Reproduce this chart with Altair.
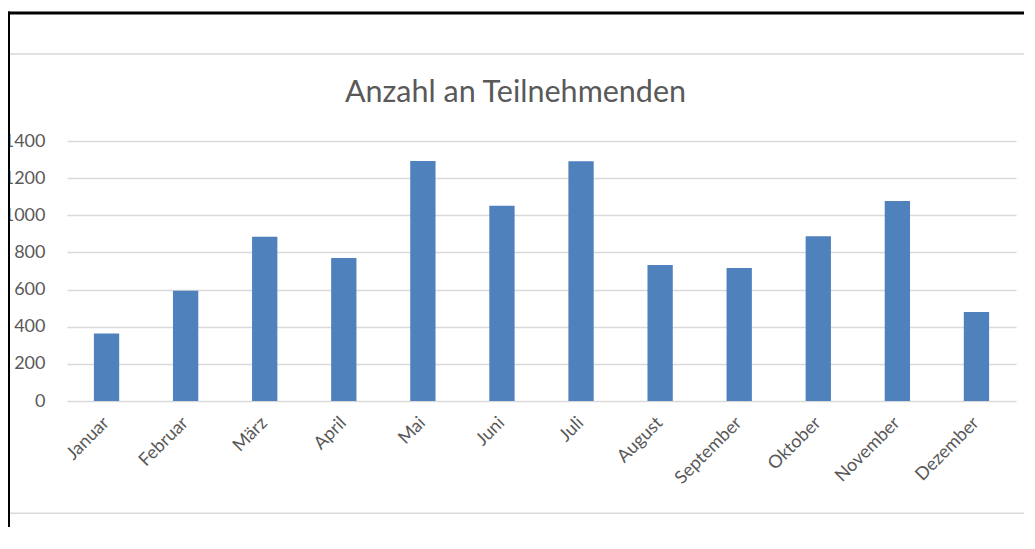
import altair as alt
import pandas as pd

months = ["Januar", "Februar", "März", "April", "Mai", "Juni", "Juli",
          "August", "September", "Oktober", "November", "Dezember"]
participants = [364, 594, 885, 770, 1292, 1052, 1291, 732, 716, 887, 1077, 479]
y_ticks = [0, 200, 400, 600, 800, 1000, 1200, 1400]
chart_title = "Anzahl an Teilnehmenden"

FONT = "Lato"
TXT = "#595959"
GRID = "#D9D9D9"

df = pd.DataFrame({"Monat": months, "Teilnehmende": participants})

bars = alt.Chart(df).mark_bar(color="#4F81BD").encode(
    x=alt.X("Monat:N", sort=months,
            scale=alt.Scale(paddingInner=0.68, paddingOuter=0.34),
            axis=alt.Axis(title=None, labelAngle=-45, labelAlign="right",
                          labelBaseline="middle", labelPadding=19, ticks=False,
                          domain=False, labelFont=FONT, labelFontSize=18,
                          labelColor=TXT)),
    y=alt.Y("Teilnehmende:Q", scale=alt.Scale(domain=[0, 1400], nice=False),
            axis=alt.Axis(title=None, values=y_ticks, format="d", ticks=False,
                          domain=False, labelPadding=22, labelFont=FONT,
                          labelFontSize=18, labelColor=TXT, gridColor=GRID,
                          gridWidth=1.3)),
)

one = pd.DataFrame({"t": [chart_title]})

title = alt.Chart(one).mark_text(font=FONT, fontSize=30.5, color=TXT,
                                 align="center", baseline="middle").encode(
    text="t:N", x=alt.value(448.5), y=alt.value(-48))

RIGHT = 957  # right end of the decorative lines (plot coordinates)

gray_top = alt.Chart(one).mark_rule(color=GRID, strokeWidth=1.5).encode(
    x=alt.value(-58), x2=alt.value(RIGHT), y=alt.value(-87))
gray_bottom = alt.Chart(one).mark_rule(color=GRID, strokeWidth=1.5).encode(
    x=alt.value(-58), x2=alt.value(RIGHT), y=alt.value(372.3))
black_top = alt.Chart(one).mark_rule(color="black", strokeWidth=3).encode(
    x=alt.value(-60), x2=alt.value(RIGHT), y=alt.value(-128))
black_left = alt.Chart(one).mark_rule(color="black", strokeWidth=3).encode(
    x=alt.value(-58.5), y=alt.value(-129.5), y2=alt.value(386))

chart = alt.layer(bars, title, gray_top, gray_bottom, black_top, black_left).properties(
    width=949, height=260,
    padding={"left": 59, "top": 133, "right": 11, "bottom": 128},
    autosize=alt.AutoSizeParams(type="none"),
    background="white",
).configure_view(stroke=None)

chart.save("out.html", embed_options={"renderer": "svg", "actions": False})
